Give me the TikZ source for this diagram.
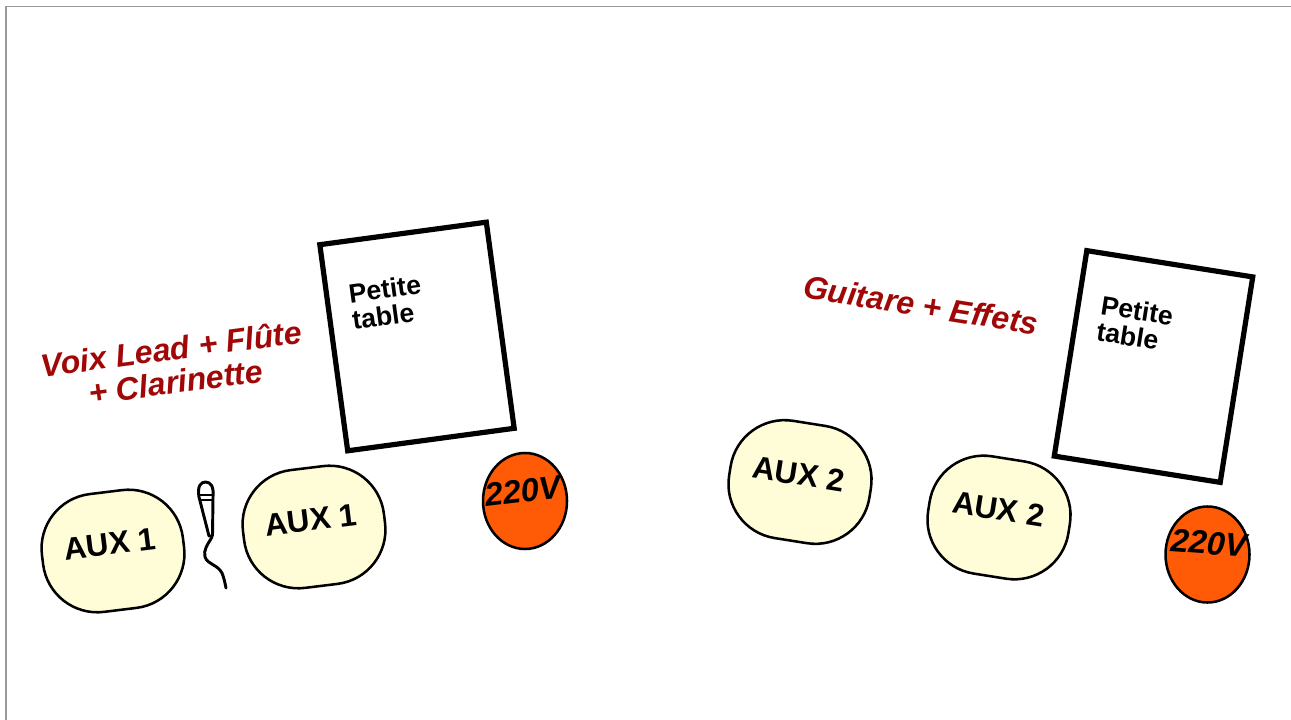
\documentclass[tikz,border=0pt]{standalone}
\usepackage{fontspec}
\setmainfont{Liberation Sans}
\usetikzlibrary{shapes.geometric}
\definecolor{auxfill}{HTML}{FFFDD8}
\definecolor{plugfill}{HTML}{FF5A05}
\definecolor{titlered}{HTML}{A00808}

\begin{document}
\begin{tikzpicture}[
x=0.75pt,y=-0.75pt,
font=\bfseries,
auxbox/.style={draw=black,line width=1.9pt,fill=auxfill,rectangle,rounded corners=41pt,minimum width=106.5pt,minimum height=89pt,inner sep=0pt},
auxtext/.style={font=\bfseries\fontsize{23.6}{26}\selectfont,inner sep=0pt},
tablebox/.style={draw=black,line width=3.9pt,rectangle,minimum width=126pt,minimum height=156pt,inner sep=0pt},
tabletext/.style={font=\bfseries\fontsize{20}{20}\selectfont,align=left,inner sep=0pt},
plug/.style={draw=black,line width=1.9pt,fill=plugfill,ellipse,minimum width=63pt,minimum height=72pt,inner sep=0pt},
plugtext/.style={font=\bfseries\itshape\fontsize{24.5}{28}\selectfont,inner sep=0pt},
title/.style={font=\bfseries\itshape\fontsize{24}{25}\selectfont,text=titlered,align=center,inner sep=0pt},
mic/.style={line width=2.2pt,line cap=round,line join=round}
]
    % Draw frame
    \useasboundingbox (0,0) rectangle (1291,720);
    \draw [gray!80,line width=1.1pt] (6,720) -- (6,6.5) -- (1291,6.5);

    % Left side
    \node [tablebox,rotate=7.7] (tableA) at (417,336.5) {};
    \node [tabletext,rotate=7.7] (tableAtext) at (386.5,302) {Petite\\table};
    \node [title,rotate=7.5] (titleA) at (173.5,365) {Voix Lead + Flûte\\+ Clarinette};
    \node [auxbox,rotate=7] (auxA) at (113,551) {};
    \node [auxtext,rotate=7] (auxAtext) at (110,544) {AUX 1};
    \node [auxbox,rotate=7] (auxB) at (314,527) {};
    \node [auxtext,rotate=7] (auxBtext) at (311,520) {AUX 1};
    \node [plug] (plugA) at (525,501) {};
    \node [plugtext,rotate=7] (plugAtext) at (523,491) {220V};

    % Microphone
    \draw [mic] (199,497) .. controls (197,486) and (201,482) .. (205.5,482)
        .. controls (211,482) and (214,487) .. (213,497) -- (212.5,536) -- (209,536) -- (199,497);
    \draw [mic,line width=1.6pt] (200,495) -- (212,495);
    \draw [mic,line width=1.6pt] (200,500) -- (212,500);
    \draw [mic] (212,537) .. controls (208,544) and (203,550) .. (205,557)
        .. controls (208,565) and (217,564) .. (222,573) .. controls (224,578) and (225,583) .. (226,588);

    % Right side
    \node [tablebox,rotate=-9] (tableB) at (1153.5,366.5) {};
    \node [tabletext,rotate=-9] (tableBtext) at (1135,323.5) {Petite\\table};
    \node [title,rotate=-9] (titleB) at (921,305) {Guitare + Effets};
    \node [auxbox,rotate=-9] (auxC) at (800,482) {};
    \node [auxtext,rotate=-9] (auxCtext) at (799,474) {AUX 2};
    \node [auxbox,rotate=-9] (auxD) at (999,517.5) {};
    \node [auxtext,rotate=-9] (auxDtext) at (998.5,509) {AUX 2};
    \node [plug] (plugB) at (1207.5,554.5) {};
    \node [plugtext,rotate=-4] (plugBtext) at (1209,543) {220V};
\end{tikzpicture}
\end{document}
